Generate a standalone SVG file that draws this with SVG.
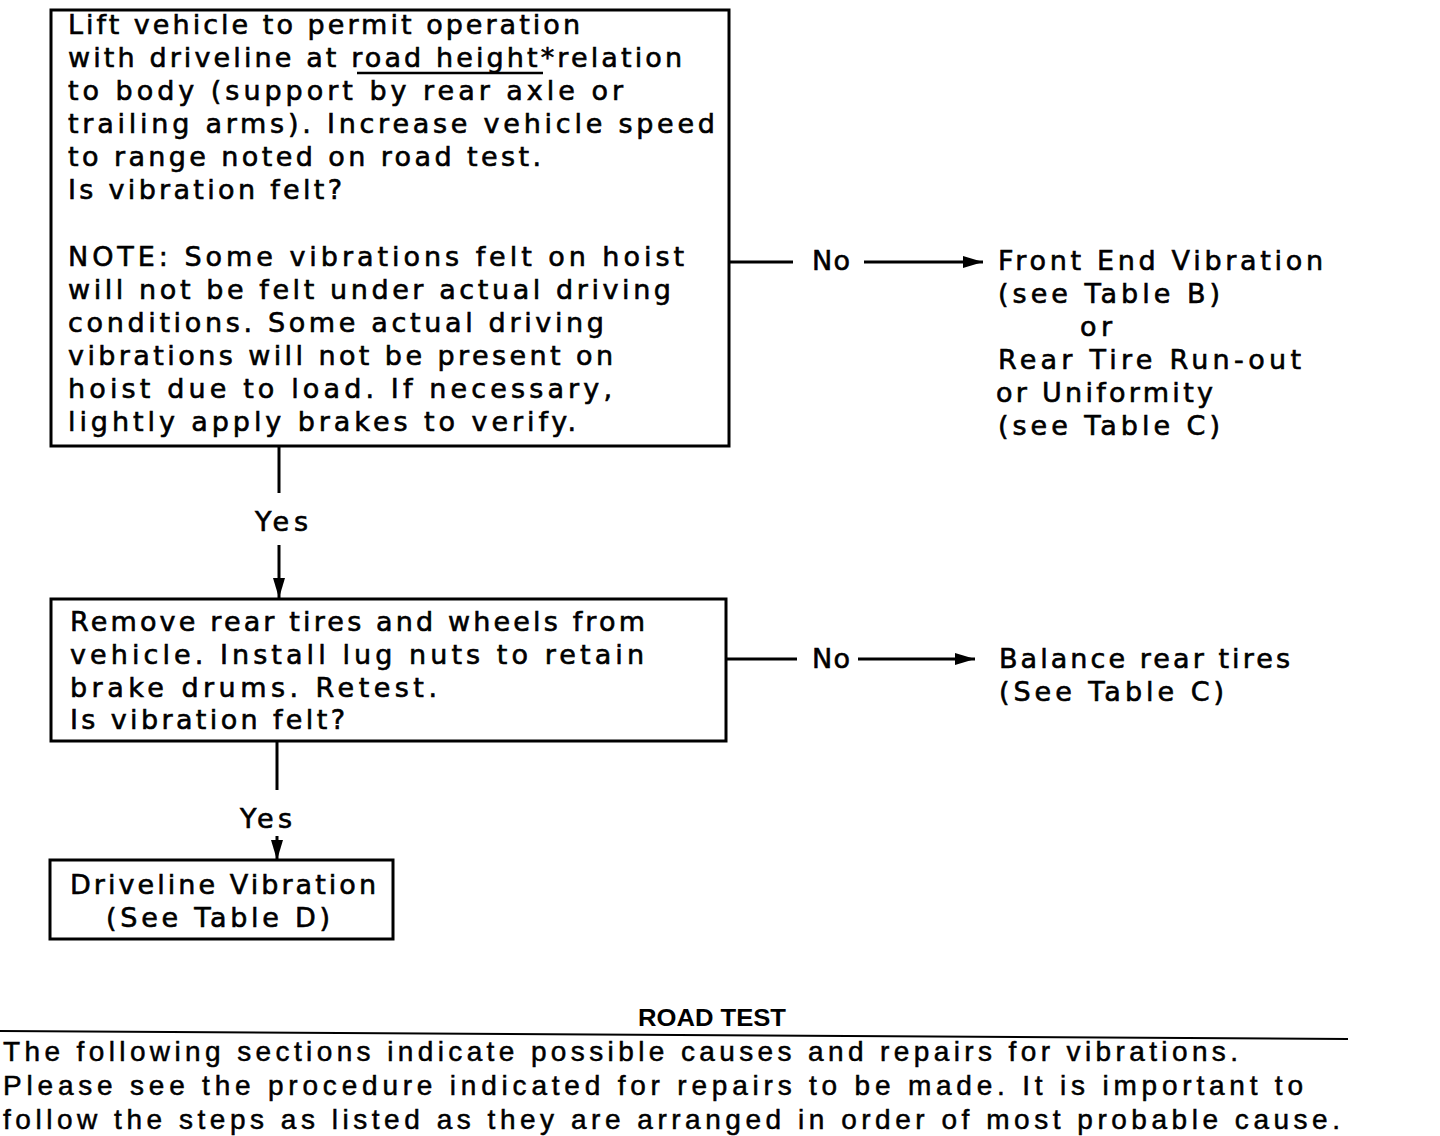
<svg xmlns="http://www.w3.org/2000/svg" width="1440" height="1136" viewBox="0 0 1440 1136">
<style>
.box{fill:#fff;stroke:#000;stroke-width:3}
.t{font-family:"DejaVu Sans","Liberation Sans",sans-serif;font-size:27px;fill:#000;stroke:#000;stroke-width:0.6}
.b{font-family:"Liberation Sans Narrow","Liberation Sans",Arial,sans-serif;font-size:28px;fill:#000;stroke:#000;stroke-width:0.5}
.h{font-family:"Liberation Sans Narrow","Liberation Sans",Arial,sans-serif;font-size:24px;font-weight:bold;fill:#000}
.c{stroke:#000;stroke-width:3;fill:none}
</style>
<defs>
<marker id="ah" viewBox="0 0 20 12" refX="20" refY="6" markerWidth="20" markerHeight="12" markerUnits="userSpaceOnUse" orient="auto">
<path d="M0,0 L20,6 L0,12 Z" fill="#000"/>
</marker>
</defs>
<rect width="1440" height="1136" fill="#fff"/>

<g id="connectors">
<line class="c" x1="729" y1="262" x2="793" y2="262"/>
<line class="c" x1="864" y1="262" x2="983" y2="262" marker-end="url(#ah)"/>
<line class="c" x1="279" y1="446" x2="279" y2="493"/>
<line class="c" x1="279" y1="545" x2="279" y2="598" marker-end="url(#ah)"/>
<line class="c" x1="726" y1="659" x2="797" y2="659"/>
<line class="c" x1="858" y1="659" x2="975" y2="659" marker-end="url(#ah)"/>
<line class="c" x1="277" y1="741" x2="277" y2="790"/>
<line class="c" x1="277" y1="836" x2="277" y2="860" marker-end="url(#ah)"/>
<text class="t" x="812" y="270" textLength="38" lengthAdjust="spacing">No</text>
<text class="t" x="255" y="531" textLength="53" lengthAdjust="spacing">Yes</text>
<text class="t" x="812" y="668" textLength="38" lengthAdjust="spacing">No</text>
<text class="t" x="240" y="828" textLength="52" lengthAdjust="spacing">Yes</text>
</g>

<g id="node1">
<rect class="box" x="51" y="10" width="678" height="436"/>
<text class="t" x="68" y="34" textLength="512" lengthAdjust="spacing">Lift vehicle to permit operation</text>
<text class="t" x="68" y="67" textLength="614" lengthAdjust="spacing">with driveline at road height*relation</text>
<line x1="357" y1="73" x2="543" y2="73" stroke="#000" stroke-width="2.5"/>
<text class="t" x="68" y="100" textLength="555" lengthAdjust="spacing">to body (support by rear axle or</text>
<text class="t" x="68" y="133" textLength="647" lengthAdjust="spacing">trailing arms).  Increase vehicle speed</text>
<text class="t" x="68" y="166" textLength="473" lengthAdjust="spacing">to range noted on road test.</text>
<text class="t" x="68" y="199" textLength="274" lengthAdjust="spacing">Is vibration felt?</text>
<text class="t" x="68" y="266" textLength="616" lengthAdjust="spacing">NOTE:  Some vibrations felt on hoist</text>
<text class="t" x="68" y="299" textLength="603" lengthAdjust="spacing">will not be felt under actual driving</text>
<text class="t" x="68" y="332" textLength="536" lengthAdjust="spacing">conditions.  Some actual driving</text>
<text class="t" x="68" y="365" textLength="545" lengthAdjust="spacing">vibrations will not be present on</text>
<text class="t" x="68" y="398" textLength="544" lengthAdjust="spacing">hoist due to load.  If necessary,</text>
<text class="t" x="68" y="431" textLength="508" lengthAdjust="spacing">lightly apply brakes to verify.</text>
</g>

<g id="node2">
<text class="t" x="998" y="270" textLength="325" lengthAdjust="spacing">Front End Vibration</text>
<text class="t" x="998" y="303" textLength="222" lengthAdjust="spacing">(see Table B)</text>
<text class="t" x="1080" y="336" textLength="32" lengthAdjust="spacing">or</text>
<text class="t" x="998" y="369" textLength="303" lengthAdjust="spacing">Rear Tire Run-out</text>
<text class="t" x="996" y="402" textLength="217" lengthAdjust="spacing">or Uniformity</text>
<text class="t" x="998" y="435" textLength="222" lengthAdjust="spacing">(see Table C)</text>
</g>

<g id="node3">
<rect class="box" x="51" y="599" width="675" height="142"/>
<text class="t" x="70" y="631" textLength="575" lengthAdjust="spacing">Remove rear tires and wheels from</text>
<text class="t" x="70" y="664" textLength="574" lengthAdjust="spacing">vehicle.  Install lug nuts to retain</text>
<text class="t" x="70" y="697" textLength="367" lengthAdjust="spacing">brake drums.  Retest.</text>
<text class="t" x="70" y="729" textLength="275" lengthAdjust="spacing">Is vibration felt?</text>
</g>

<g id="node4">
<text class="t" x="999" y="668" textLength="291" lengthAdjust="spacing">Balance rear tires</text>
<text class="t" x="999" y="701" textLength="225" lengthAdjust="spacing">(See Table C)</text>
</g>

<g id="node5">
<rect class="box" x="50" y="860" width="343" height="79"/>
<text class="t" x="70" y="894" textLength="306" lengthAdjust="spacing">Driveline Vibration</text>
<text class="t" x="106" y="927" textLength="224" lengthAdjust="spacing">(See Table D)</text>
</g>

<g id="caption">
<text class="h" x="638" y="1026" textLength="148" lengthAdjust="spacingAndGlyphs">ROAD TEST</text>
<line x1="0" y1="1031" x2="1348" y2="1039" stroke="#000" stroke-width="2"/>
<text class="b" x="3" y="1061" textLength="1235" lengthAdjust="spacing">The following sections indicate possible causes and repairs for vibrations.</text>
<text class="b" x="3" y="1095" textLength="1300" lengthAdjust="spacing">Please see the procedure indicated for repairs to be made.  It is important to</text>
<text class="b" x="3" y="1129" textLength="1337" lengthAdjust="spacing">follow the steps as listed as they are arranged in order of most probable cause.</text>
</g>
</svg>
